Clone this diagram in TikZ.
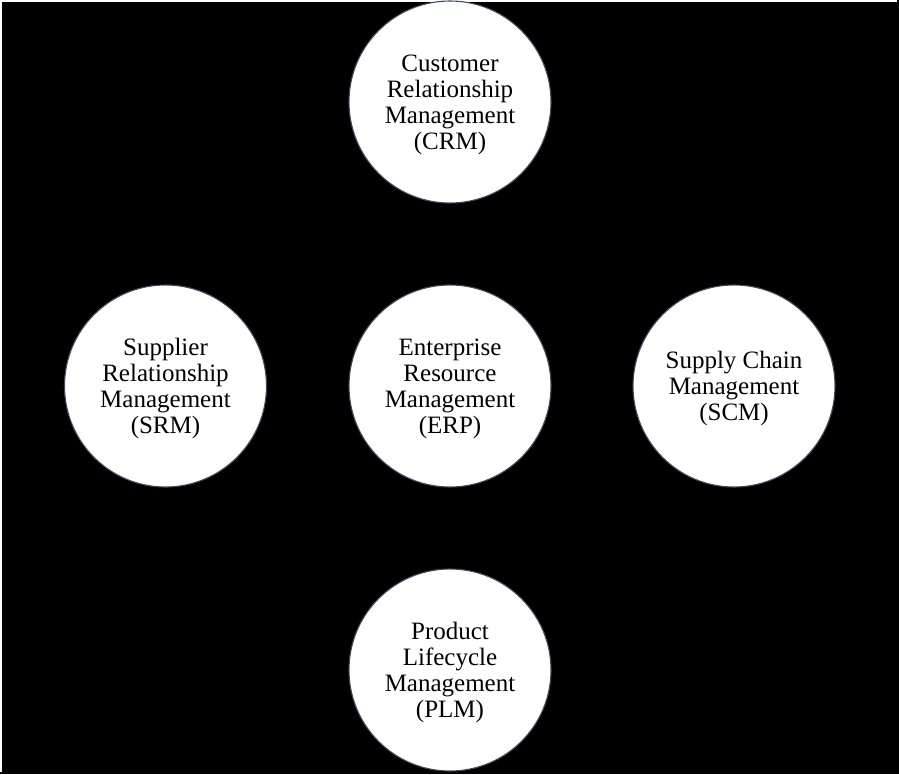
\documentclass[tikz,border=0pt]{standalone}
\usepackage{fontspec}
\setmainfont{Liberation Serif}
\definecolor{ringcol}{RGB}{62,76,96}
\begin{document}
\begin{tikzpicture}[x=1pt,y=-1pt,
  unit/.style={circle,draw=ringcol,line width=1.1pt,fill=white,
    minimum size=202pt,inner sep=0pt,
    label={[align=center,font=\fontsize{25}{26}\selectfont,text=black,yshift=-2.5pt]center:#1}}]
\useasboundingbox (0,0) rectangle (899,774);
\fill[black] (0,0) rectangle (899,774);
\fill[white] (0,0) rectangle (897,2);
\fill[white] (0,0) rectangle (2,772);
\node[unit={Customer\\Relationship\\Management\\(CRM)}] (crm) at (450,102) {};
\node[unit={Enterprise\\Resource\\Management\\(ERP)}] (erp) at (450,386) {};
\node[unit={Supplier\\Relationship\\Management\\(SRM)}] (srm) at (165.5,386) {};
\node[unit={Supply Chain\\Management\\(SCM)}] (scm) at (734,386) {};
\node[unit={Product\\Lifecycle\\Management\\(PLM)}] (plm) at (450,670) {};
\end{tikzpicture}
\end{document}
